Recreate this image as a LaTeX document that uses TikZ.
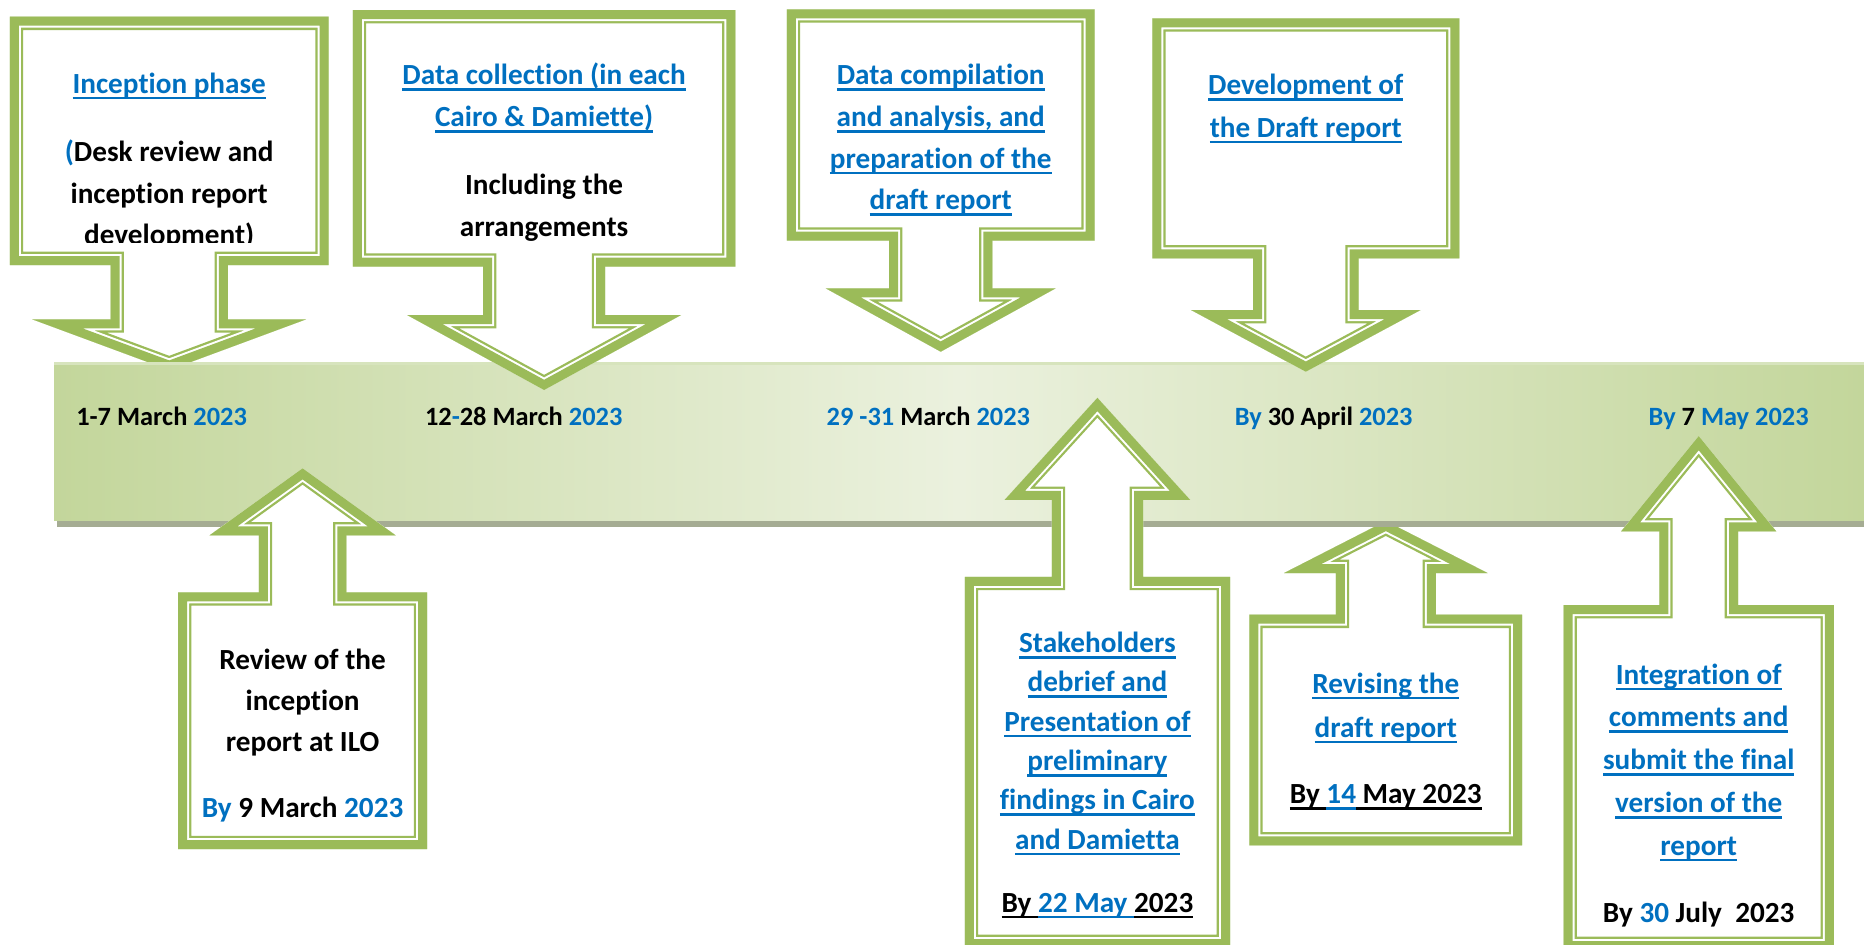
\documentclass[tikz,border=0pt]{standalone}
\usepackage{fontspec}
\setmainfont{Carlito}[Ligatures={NoCommon,NoContextual}]
\usepackage{xcolor}

\definecolor{framegreen}{HTML}{9BBB59}
\definecolor{linkblue}{HTML}{0070C0}
\definecolor{bandedge}{HTML}{C3D69B}
\definecolor{bandmid}{HTML}{EBF1DE}
\definecolor{bandshadow}{HTML}{A5AC93}
\definecolor{bandtop}{HTML}{D7E4BD}

% blue words and underlined link text
\newcommand{\inblue}[1]{\textcolor{linkblue}{#1}}
\newcommand{\uln}[1]{\leavevmode\setbox0\hbox{#1}\rlap{\vrule width\wd0 height -0.12em depth 0.21em}\box0}
% centred lines, first baseline is the node baseline
\newcommand{\textlines}[2]{{\fontsize{14.6pt}{#1}\selectfont\begin{tabular}[t]{@{}c@{}}#2\end{tabular}}}

% callout box with arrow: cx, half width, far edge y, near edge y, stem half, head half, shoulder y, tip y
\newcommand{\callout}[8]{%
  \def\cpath{(#1-#2,#3) -- (#1+#2,#3) -- (#1+#2,#4) -- (#1+#5,#4) -- (#1+#5,#7) -- (#1+#6,#7) -- (#1,#8)
    -- (#1-#6,#7) -- (#1-#5,#7) -- (#1-#5,#4) -- (#1-#2,#4) -- cycle}%
  \fill[white] \cpath;
  \begin{scope}
    \clip \cpath;
    \draw[frame, line width=13.3pt] \cpath;
    \draw[frame, draw=white, line width=11pt] \cpath;
    \draw[frame, line width=9pt] \cpath;
  \end{scope}}

\begin{document}
\begin{tikzpicture}[
    x=0.5pt, y=-0.5pt,
    frame/.style={draw=framegreen, line join=miter},
    txt/.style={anchor=base, inner sep=0pt, font=\bfseries},
    datetxt/.style={txt, font=\bfseries\fontsize{13.2pt}{15pt}\selectfont},
]
    \useasboundingbox (0,0) rectangle (1864,944);

    % callouts lying under the band
    \callout{169.2}{159.45}{16.7}{265}{58.7}{137}{319.3}{370}
    \begin{scope}
        \clip (9.7,16.7) rectangle (328.6,242.7);
        \node[txt] (inception) at (169.2,93.2) {\textlines{20.8pt}{\inblue{\uln{Inception phase}}\\[13.45pt]
            \inblue{(}Desk review and\\ inception report\\ development)}};
    \end{scope}
    \callout{1385.8}{136.4}{845.4}{614.7}{50}{101.7}{573}{521}

    % time band
    \fill[bandshadow] (57,518) rectangle (1864,527);
    \shade[left color=bandedge, right color=bandedge, middle color=bandmid] (54,362) rectangle (1864,520);
    \fill[bandtop] (54,362) rectangle (1864,364.5);

    % callouts above the band
    \callout{544.1}{191.2}{10}{266.7}{61}{137}{315}{390}
    \callout{940.7}{153.85}{9.3}{240.7}{51.7}{115}{288.3}{351.7}
    \callout{1305.8}{153.5}{18.3}{258.3}{52.8}{114.8}{310}{371.7}

    % callouts below the band
    \callout{302.6}{124.45}{849.2}{592.3}{43.8}{93}{535.3}{468.3}
    \callout{1097.4}{132.6}{948}{576.9}{45.6}{92.8}{499.9}{397.8}
    \callout{1698.7}{135.2}{950}{605}{39.3}{77.6}{531.4}{436}

    % dates on the band
    \node[datetxt] (march1) at (161.6,425) {1-7 March \inblue{2023}};
    \node[datetxt] (march2) at (523.7,425) {12\inblue{-}28 March \inblue{2023}};
    \node[datetxt] (march3) at (928.4,425) {\inblue{29 -31} March \inblue{2023}};
    \node[datetxt] (april) at (1323.7,425) {\inblue{By} 30 April \inblue{2023}};
    \node[datetxt] (may) at (1728.7,425) {\inblue{By} 7 \inblue{May 2023}};

    % callout texts
    \node[txt] (collection) at (544.1,84.8) {\textlines{21pt}{\inblue{\uln{Data collection (in each}}\\
        \inblue{\uln{Cairo \& Damiette)}}\\[12.9pt] Including the\\ arrangements}};
    \node[txt] (compilation) at (940.7,84.8) {\textlines{20.8pt}{\inblue{\uln{Data compilation}}\\
        \inblue{\uln{and analysis, and}}\\ \inblue{\uln{preparation of the}}\\ \inblue{\uln{draft report}}}};
    \node[txt] (drafting) at (1305.8,94.5) {\textlines{21.35pt}{\inblue{\uln{Development of}}\\
        \inblue{\uln{the Draft report}}}};
    \node[txt] (review) at (302.6,669.4) {\textlines{20.6pt}{Review of the\\ inception\\ report at ILO\\[12.05pt]
        \inblue{By} 9 March \inblue{2023}}};
    \node[txt] (debrief) at (1097.4,652.5) {\textlines{19.65pt}{\inblue{\uln{Stakeholders}}\\
        \inblue{\uln{debrief and}}\\ \inblue{\uln{Presentation of}}\\ \inblue{\uln{preliminary}}\\
        \inblue{\uln{findings in Cairo}}\\ \inblue{\uln{and Damietta}}\\[11.9pt]
        \uln{By }\inblue{\uln{22 May }}\uln{2023}}};
    \node[txt] (revising) at (1385.8,693) {\textlines{22pt}{\inblue{\uln{Revising the}}\\
        \inblue{\uln{draft report}}\\[11.25pt] \uln{By }\inblue{\uln{14}}\uln{ May 2023}}};
    \node[txt] (finalise) at (1698.7,684) {\textlines{21.4pt}{\inblue{\uln{Integration of}}\\
        \inblue{\uln{comments and}}\\ \inblue{\uln{submit the final}}\\ \inblue{\uln{version of the}}\\
        \inblue{\uln{report}}\\[12.25pt] By \inblue{30} July~~2023}};

\end{tikzpicture}
\end{document}
